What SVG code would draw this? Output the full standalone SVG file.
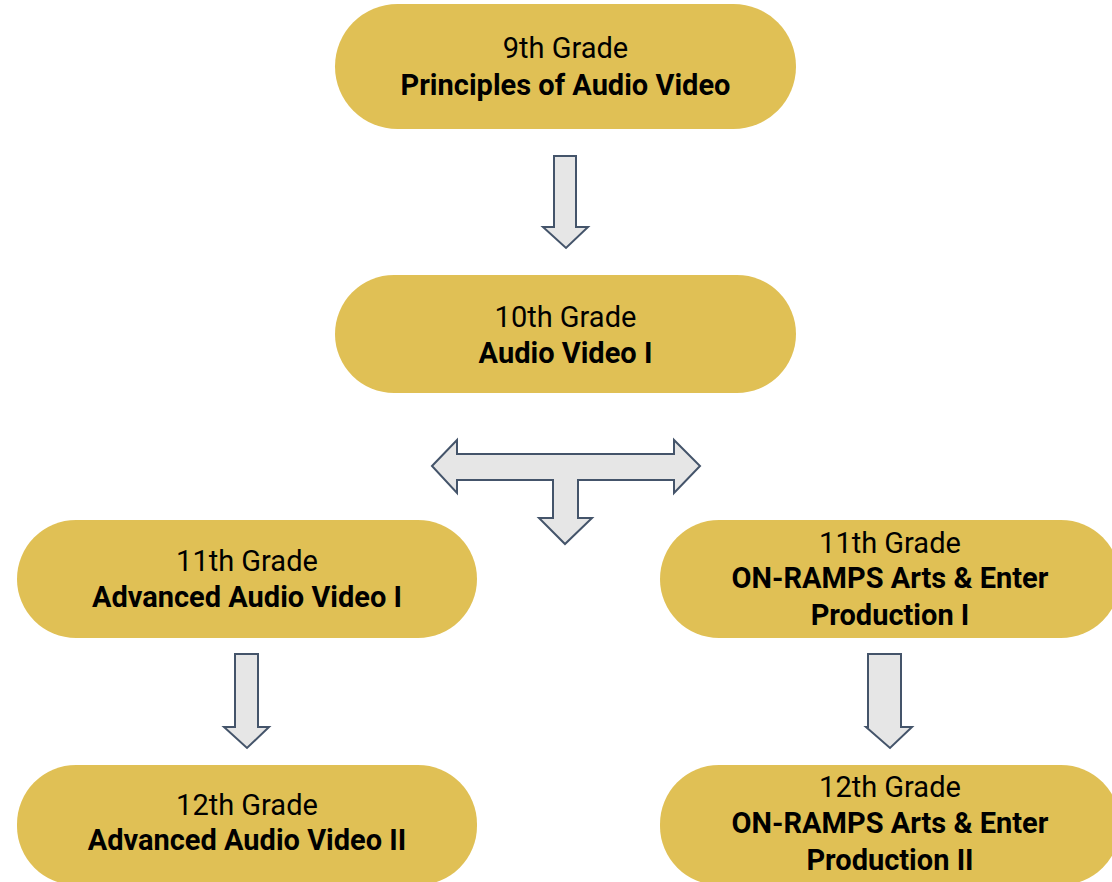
<svg xmlns="http://www.w3.org/2000/svg" width="1112" height="882" viewBox="0 0 1112 882">
<style>
.node{fill:#E0C055;}
.t{font-family:Roboto,"Liberation Sans",sans-serif;font-size:29px;fill:#000;text-anchor:middle;}
.b{font-weight:bold;}
.arr{fill:#E6E6E6;stroke:#44546A;stroke-width:2;stroke-linejoin:miter;}
</style>
<rect width="1112" height="882" fill="#FFFFFF"/>
<g id="connectors">
<path class="arr" d="M554,156 L576,156 L576,227 L588,227 L566,248 L543,227 L554,227 Z"/>
<path class="arr" d="M432,466 L457,440 L457,454 L674,454 L674,440 L700,466 L674,493 L674,480 L578,480 L578,518 L592,518 L565,544 L539,518 L553,518 L553,480 L457,480 L457,493 Z"/>
<path class="arr" d="M235,654 L258,654 L258,727 L269,727 L247,748 L224,727 L235,727 Z"/>
<path class="arr" d="M868,654 L901,654 L901,727 L912,727 L890,748 L866,727 L868,727 Z"/>
</g>
<g id="n9">
<rect class="node" x="335" y="4" width="461" height="125" rx="62.5"/>
<text class="t" x="565.5" y="58">9th Grade</text>
<text class="t b" x="565.5" y="95">Principles of Audio Video</text>
</g>
<g id="n10">
<rect class="node" x="335" y="275" width="461" height="118" rx="59"/>
<text class="t" x="565.5" y="327">10th Grade</text>
<text class="t b" x="565.5" y="363">Audio Video I</text>
</g>
<g id="n11a">
<rect class="node" x="17" y="520" width="460" height="118" rx="59"/>
<text class="t" x="247" y="571">11th Grade</text>
<text class="t b" x="247" y="607">Advanced Audio Video I</text>
</g>
<g id="n11b">
<rect class="node" x="660" y="520" width="460" height="118" rx="59"/>
<text class="t" x="890" y="553">11th Grade</text>
<text class="t b" x="890" y="588">ON-RAMPS Arts &amp; Enter</text>
<text class="t b" x="890" y="625">Production I</text>
</g>
<g id="n12a">
<rect class="node" x="17" y="765" width="460" height="120" rx="59"/>
<text class="t" x="247" y="815">12th Grade</text>
<text class="t b" x="247" y="850">Advanced Audio Video II</text>
</g>
<g id="n12b">
<rect class="node" x="660" y="765" width="460" height="120" rx="59"/>
<text class="t" x="890" y="797">12th Grade</text>
<text class="t b" x="890" y="833">ON-RAMPS Arts &amp; Enter</text>
<text class="t b" x="890" y="870">Production II</text>
</g>
</svg>
